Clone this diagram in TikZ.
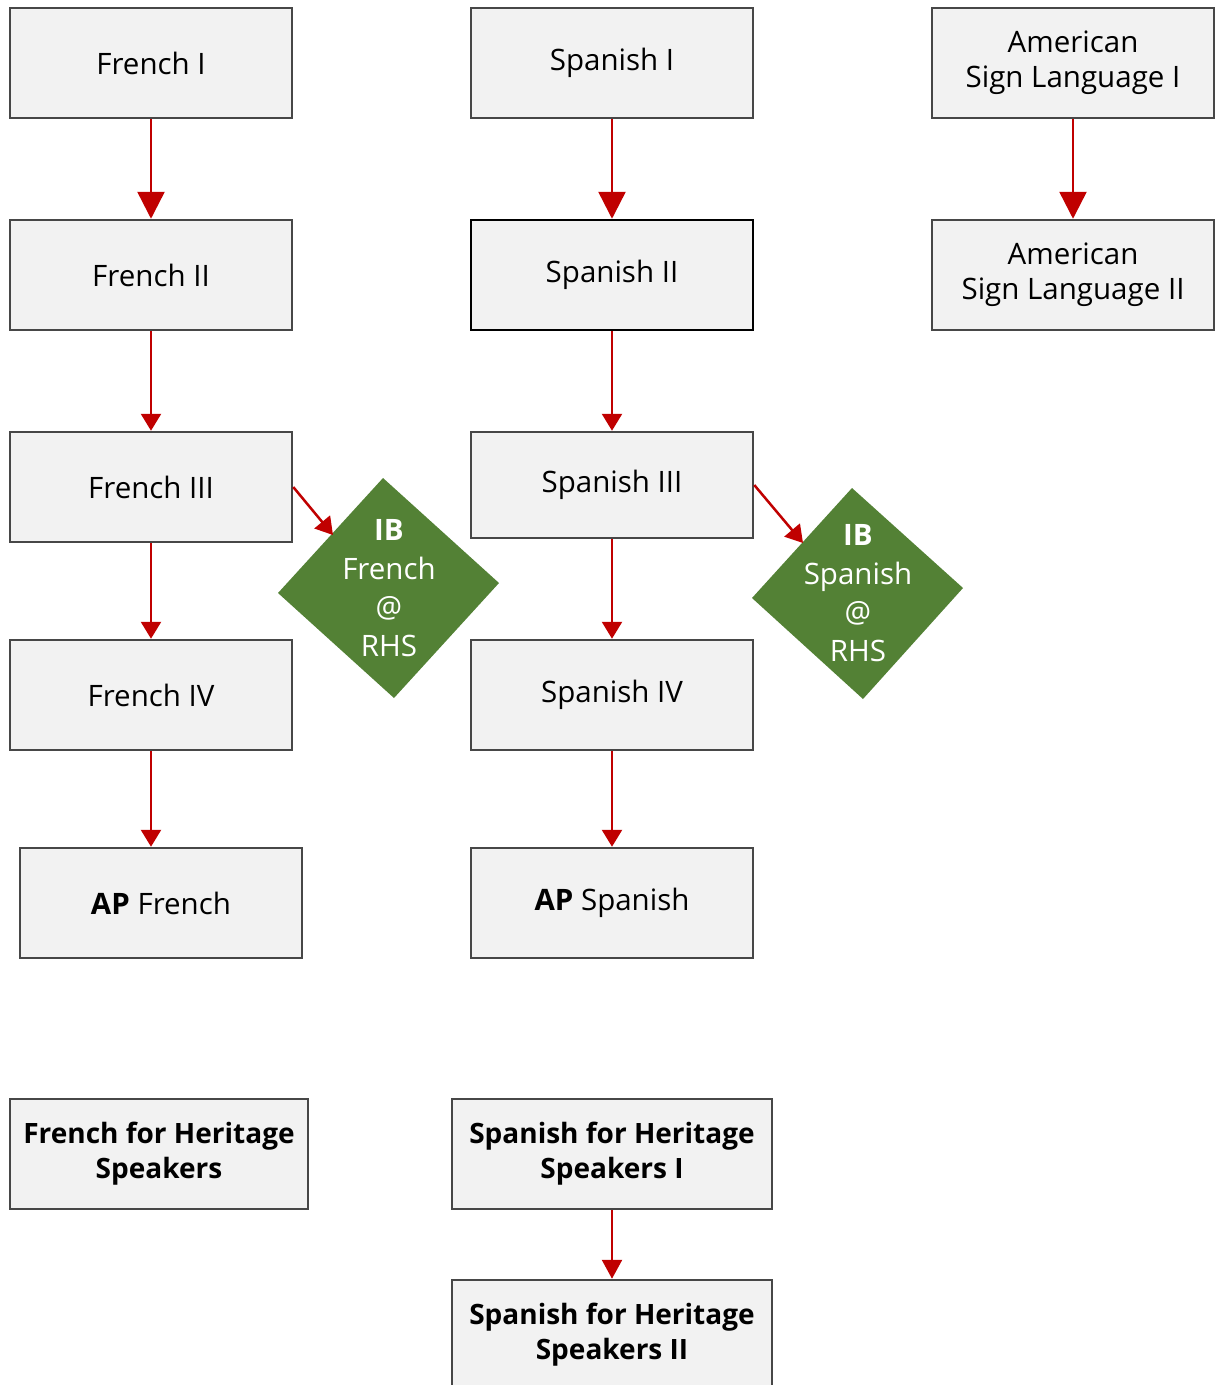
\documentclass[tikz,border=0pt]{standalone}
\usepackage{fontspec}
\setmainfont{Open Sans}
\usetikzlibrary{arrows.meta}
\definecolor{boxfill}{HTML}{F2F2F2}
\definecolor{boxline}{HTML}{474747}
\definecolor{arrowred}{HTML}{C00000}
\definecolor{ibgreen}{HTML}{538135}
\begin{document}
\begin{tikzpicture}[x=1pt,y=-1pt,
  course/.style={draw=boxline, fill=boxfill, line width=2.5pt,
    minimum width=282pt, minimum height=110pt, inner sep=0pt,
    align=center, text=black, font=\fontsize{29.5}{35}\selectfont},
  heritage/.style={course, font=\bfseries\fontsize{28}{35}\selectfont},
  link/.style={draw=arrowred, line width=2.5pt, -{Triangle[length=17pt,width=20pt]}},
  midlink/.style={link, -{Triangle[length=19pt,width=20pt]}},
  biglink/.style={link, -{Triangle[length=27pt,width=27pt]}},
  ibshape/.style={fill=ibgreen, draw=none},
  ibtext/.style={text=white, align=center, inner sep=0pt,
    font=\fontsize{29.5}{38.5}\selectfont}]
\path[use as bounding box] (0,0) rectangle (1216,1385);
\clip (0,0) rectangle (1216,1385);

% French track
\node[course] (fr1) at (151,63) {French I};
\node[course] (fr2) at (151,275) {French II};
\node[course] (fr3) at (151,487) {French III};
\node[course] (fr4) at (151,695) {French IV};
\node[course] (apfr) at (161,903) {\textbf{AP} French};
\node[heritage, minimum width=298pt] (frh) at (159,1154) {French for Heritage\\Speakers};

% Spanish track
\node[course] (es1) at (612,63) {Spanish I};
\node[course, draw=black] (es2) at (612,275) {Spanish II};
\node[course, minimum height=106pt] (es3) at (612,485) {Spanish III};
\node[course] (es4) at (612,695) {Spanish IV};
\node[course] (apes) at (612,903) {\textbf{AP} Spanish};
\node[heritage, minimum width=320pt] (esh1) at (612,1154) {Spanish for Heritage\\Speakers I};
\node[heritage, minimum width=320pt] (esh2) at (612,1335) {Spanish for Heritage\\Speakers II};

% American Sign Language track
\node[course] (asl1) at (1073,63) {American\\Sign Language I};
\node[course] (asl2) at (1073,275) {American\\Sign Language II};

% IB diamonds
\fill[ibshape] (383,478) -- (499,583) -- (394,698) -- (278,593) -- cycle;
\node[ibtext] (ibfr) at (389,588) {\textbf{IB}\\French\\@\\RHS};
\coordinate (ibfr-in) at (333,535);
\fill[ibshape] (852,488) -- (963,588) -- (863,699) -- (752,598) -- cycle;
\node[ibtext] (ibes) at (858,593) {\textbf{IB}\\Spanish\\@\\RHS};
\coordinate (ibes-in) at (803,543);

% Connectors
\draw[biglink] (fr1) -- (fr2);
\draw[link] (fr2) -- (fr3);
\draw[link] (fr3) -- (fr4);
\draw[link] (fr4.south) -- (fr4.south |- apfr.north);
\draw[link] (fr3.east) -- (ibfr-in);

\draw[biglink] (es1) -- (es2);
\draw[link] (es2) -- (es3);
\draw[link] (es3) -- (es4);
\draw[link] (es4) -- (apes);
\draw[link] (es3.east) -- (ibes-in);
\draw[midlink] (esh1) -- (esh2);

\draw[biglink] (asl1) -- (asl2);
\end{tikzpicture}
\end{document}
